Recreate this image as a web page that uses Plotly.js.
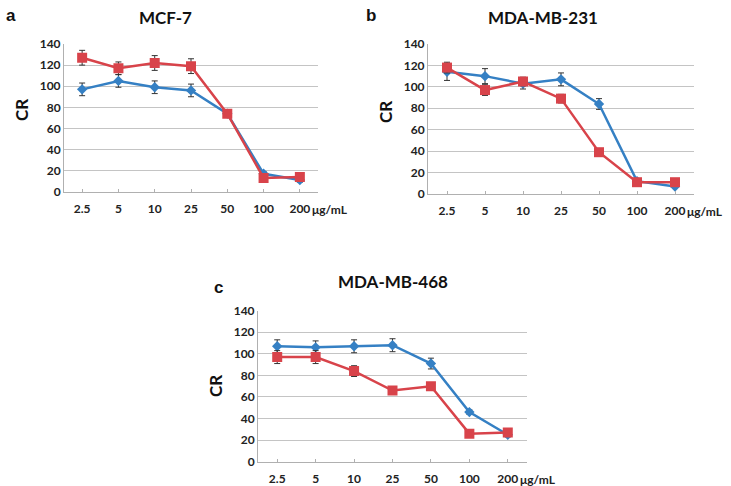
<!DOCTYPE html>
<html>
<head>
<meta charset="utf-8">
<script src="https://cdn.plot.ly/plotly-3.0.1.min.js"></script>
<style>html,body{margin:0;padding:0;background:#fff;}#chart{width:731px;height:486px;}</style>
</head>
<body>
<div id="chart"></div>
<script>
var categories = ['2.5','5','10','25','50','100','200'];
var yTicks = [0,20,40,60,80,100,120,140];

var mcfBlue = [97,105,99,96,74,17,11];
var mcfBlueErr = [6,6,6,6,3,2,2];
var mcfRed = [127,117,122,119,74,13,14];
var mcfRedErr = [7,6,7,7,3,2,2];

var mb231Blue = [114,110,103,107,84,12,7];
var mb231BlueErr = [8,7,5,6,5,1,1];
var mb231Red = [118,97,105,89,39,11,11];
var mb231RedErr = [5,5,4,4,2,1,1];

var mb468Blue = [107,106,107,108,91,46,25];
var mb468BlueErr = [6,6,6,6,5,2,2];
var mb468Red = [97,97,84,66,70,26,27];
var mb468RedErr = [6,6,5,3,3,2,2];

var panelTitles = ['MCF-7','MDA-MB-231','MDA-MB-468'];
var panelLetters = ['a','b','c'];
var unitLabel = 'μg/mL';
var yLabel = 'CR';

var W = 731, H = 486;
function px(x){return x/W;}
function py(y){return 1 - y/H;}

var BLUE = '#3580c4', RED = '#d8434a';

function series(xa, ya, vals, errs, color, symbol, size){
  return {
    x: categories, y: vals, xaxis: xa, yaxis: ya, type: 'scatter', mode: 'lines+markers',
    line: {color: color, width: 2.5},
    marker: {color: color, symbol: symbol, size: size},
    error_y: {type: 'data', array: errs, visible: true, color: '#333', thickness: 1, width: 3},
    showlegend: false, hoverinfo: 'skip'
  };
}

var data = [
  series('x','y', mcfBlue, mcfBlueErr, BLUE, 'diamond', 8),
  series('x','y', mcfRed, mcfRedErr, RED, 'square', 10),
  series('x2','y2', mb231Blue, mb231BlueErr, BLUE, 'diamond', 8),
  series('x2','y2', mb231Red, mb231RedErr, RED, 'square', 10),
  series('x3','y3', mb468Blue, mb468BlueErr, BLUE, 'diamond', 8),
  series('x3','y3', mb468Red, mb468RedErr, RED, 'square', 10)
];

var tickFont = {family: 'Lato, Arial, sans-serif', size: 12, color: '#222', weight: 'bold'};

function xAxis(l, r, anchor){
  return {domain: [px(l), px(r)], anchor: anchor, type: 'category', range: [-0.5, 6.5],
    showgrid: false, zeroline: false, showline: true, linecolor: '#b0b0b0', linewidth: 1,
    ticks: 'inside', ticklen: 3, tickcolor: '#b0b0b0', tickfont: tickFont, ticklabelstandoff: 6,
    fixedrange: true};
}
function yAxis(top, bottom, anchor){
  return {domain: [py(bottom), py(top)], anchor: anchor, range: [0, 140], tickvals: yTicks,
    showgrid: true, gridcolor: '#c4c4c4', gridwidth: 1, zeroline: false, showline: true,
    linecolor: '#b0b0b0', linewidth: 1, ticks: '', tickfont: tickFont, fixedrange: true};
}

var ann = [];
function txt(x, y, t, size, opts){
  var a = {xref: 'paper', yref: 'paper', x: px(x), y: py(y), text: t, showarrow: false,
    xanchor: 'center', yanchor: 'middle',
    font: {family: 'Lato, Arial, sans-serif', size: size, color: '#111', weight: 'bold'}};
  for (var k in opts) a[k] = opts[k];
  ann.push(a);
}
var letterFont = {family:'Arial, Liberation Sans, sans-serif', size:17, color:'#111', weight:'bold'};
// panel letters
txt(11, 15, panelLetters[0], 17, {font: letterFont});
txt(371, 15, panelLetters[1], 17, {font: letterFont});
txt(218, 287, panelLetters[2], 16, {font: letterFont});
// titles
txt(165, 18, panelTitles[0], 17);
txt(543, 18, panelTitles[1], 17);
txt(393, 281, panelTitles[2], 17);
// y labels
txt(22, 110, yLabel, 17, {textangle: -90});
txt(385, 112, yLabel, 17, {textangle: -90});
txt(215, 386, yLabel, 17, {textangle: -90});
// unit labels
[['x','y'],['x2','y2'],['x3','y3']].forEach(function(p){
  ann.push({xref: p[0], yref: p[1], x: 6, y: 0, text: unitLabel, showarrow: false,
    xanchor: 'left', yanchor: 'top', xshift: 10, yshift: -8,
    font: {family: 'Lato, Arial, sans-serif', size: 12, color: '#222', weight: 'bold'}});
});

var layout = {
  width: W, height: H, margin: {l: 0, r: 0, t: 0, b: 0},
  paper_bgcolor: '#fff', plot_bgcolor: '#fff',
  xaxis: xAxis(64, 318, 'y'), yaxis: yAxis(44, 191.7, 'x'),
  xaxis2: xAxis(428, 694, 'y2'), yaxis2: yAxis(44, 194, 'x2'),
  xaxis3: xAxis(258, 527, 'y3'), yaxis3: yAxis(310.7, 461.7, 'x3'),
  annotations: ann, showlegend: false
};

Plotly.newPlot('chart', data, layout, {displayModeBar: false, staticPlot: true});
</script>
</body>
</html>
